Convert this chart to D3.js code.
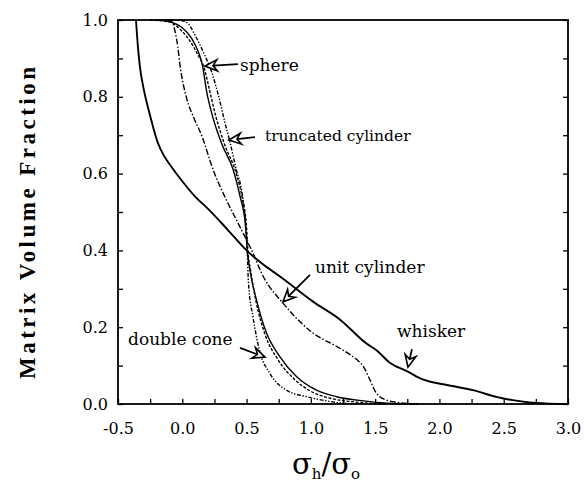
<!DOCTYPE html>
<html>
<head>
<meta charset="utf-8">
<script src="https://cdn.jsdelivr.net/npm/d3@7/dist/d3.min.js"></script>
<style>
  body { margin: 0; background: #fff; }
  text { font-family: "DejaVu Serif", "Liberation Serif", serif; fill: #000; }
</style>
</head>
<body>
<svg width="584" height="486"></svg>
<script>
// values: x = sigma_h / sigma_o, y = matrix volume fraction
var whiskerX = [-0.36, -0.345, -0.33, -0.30, -0.265, -0.23, -0.19, -0.14, -0.10, 0.0, 0.10, 0.21, 0.35, 0.50, 0.63, 0.76, 1.02, 1.23, 1.43, 1.51, 1.62, 1.75, 1.87, 2.05, 2.26, 2.45, 2.57, 2.70, 2.85, 3.0];
var whiskerY = [1.0, 0.93, 0.88, 0.82, 0.77, 0.725, 0.68, 0.645, 0.625, 0.58, 0.54, 0.505, 0.455, 0.40, 0.363, 0.332, 0.266, 0.219, 0.158, 0.14, 0.106, 0.085, 0.064, 0.05, 0.036, 0.018, 0.01, 0.004, 0.001, 0];

var truncX = [-0.2, -0.135, -0.05, 0.0, 0.073, 0.125, 0.156, 0.19, 0.24, 0.31, 0.396, 0.45, 0.49, 0.505, 0.526, 0.578, 0.656, 0.76, 0.89, 1.044, 1.2, 1.41, 1.6, 1.8];
var truncY = [1.0, 0.998, 0.99, 0.98, 0.952, 0.917, 0.883, 0.813, 0.744, 0.675, 0.61, 0.54, 0.47, 0.40, 0.349, 0.27, 0.184, 0.123, 0.071, 0.036, 0.019, 0.008, 0.002, 0];

var sphereX = [-0.25, -0.1, 0.0, 0.06, 0.12, 0.17, 0.21, 0.26, 0.33, 0.42, 0.47, 0.5, 0.51, 0.53, 0.575, 0.645, 0.745, 0.87, 1.0, 1.15, 1.35, 1.6];
var sphereY = [1.0, 0.995, 0.97, 0.945, 0.91, 0.875, 0.82, 0.75, 0.675, 0.60, 0.53, 0.46, 0.40, 0.35, 0.265, 0.18, 0.115, 0.065, 0.033, 0.015, 0.005, 0];

var unitX = [-0.12, -0.08, -0.056, -0.035, -0.018, 0.034, 0.09, 0.15, 0.24, 0.345, 0.42, 0.50, 0.54, 0.63, 0.785, 1.02, 1.2, 1.3, 1.36, 1.41, 1.46, 1.51, 1.59, 1.7, 1.85];
var unitY = [1.0, 0.995, 0.97, 0.93, 0.883, 0.796, 0.745, 0.70, 0.61, 0.53, 0.48, 0.427, 0.40, 0.332, 0.262, 0.184, 0.15, 0.13, 0.115, 0.097, 0.0625, 0.028, 0.01, 0.003, 0];

var coneX = [-0.1, 0.0, 0.047, 0.10, 0.163, 0.228, 0.28, 0.33, 0.37, 0.42, 0.461, 0.49, 0.505, 0.515, 0.55, 0.60, 0.68, 0.81, 0.967, 1.09, 1.2, 1.35];
var coneY = [1.0, 0.998, 0.99, 0.96, 0.917, 0.865, 0.805, 0.735, 0.683, 0.61, 0.557, 0.48, 0.40, 0.314, 0.227, 0.14, 0.08, 0.036, 0.019, 0.01, 0.004, 0];

var xTickValues = [-0.5, -0.25, 0.0, 0.25, 0.5, 0.75, 1.0, 1.25, 1.5, 1.75, 2.0, 2.25, 2.5, 2.75, 3.0];
var xTickLabels = ["-0.5", "", "0.0", "", "0.5", "", "1.0", "", "1.5", "", "2.0", "", "2.5", "", "3.0"];
var yTickValues = [0, 0.1, 0.2, 0.3, 0.4, 0.5, 0.6, 0.7, 0.8, 0.9, 1.0];
var yTickLabels = ["0.0", "", "0.2", "", "0.4", "", "0.6", "", "0.8", "", "1.0"];

// annotation labels and arrows (data coordinates)
var labelText = ["sphere", "truncated cylinder", "unit cylinder", "double cone", "whisker"];
var labelSize = [17, 15.5, 17, 17, 17];
var labelPos = [[0.449, 0.868], [0.643, 0.684], [1.032, 0.341], [-0.422, 0.154], [1.67, 0.174]];
var arrowTail = [[0.433, 0.885], [0.565, 0.695], [0.993, 0.336], [0.449, 0.146], [1.786, 0.143]];
var arrowTip = [[0.177, 0.880], [0.363, 0.6875], [0.783, 0.266], [0.643, 0.122], [1.755, 0.096]];

var svg = d3.select("svg"),
    margin = {top: 20, right: 16, bottom: 82, left: 118},
    width = +svg.attr("width") - margin.left - margin.right,
    height = +svg.attr("height") - margin.top - margin.bottom,
    g = svg.append("g").attr("transform", "translate(" + margin.left + "," + margin.top + ")");

var x = d3.scaleLinear().domain([-0.5, 3.0]).range([0, width]);
var y = d3.scaleLinear().domain([0, 1]).range([height, 0]);

// axes with inward ticks
var xAxis = g.append("g")
    .attr("transform", "translate(0," + height + ")")
    .call(d3.axisBottom(x).tickValues(xTickValues).tickSize(-5).tickPadding(19)
      .tickFormat(function(d, i) { return xTickLabels[i]; }));

var yAxis = g.append("g")
    .call(d3.axisLeft(y).tickValues(yTickValues).tickSize(-5).tickPadding(10)
      .tickFormat(function(d, i) { return yTickLabels[i]; }));

var yRight = g.append("g")
    .attr("transform", "translate(" + width + ",0)")
    .call(d3.axisRight(y).tickValues(yTickValues).tickSize(-5).tickFormat(""));

[xAxis, yAxis, yRight].forEach(function(a) {
  a.select(".domain").remove();
  a.selectAll(".tick line").attr("stroke", "#000").attr("stroke-width", 1.3);
  a.selectAll(".tick text").style("font-family", "DejaVu Serif").style("font-size", "16px").attr("fill", "#000");
});

// the curves
var line = d3.line()
    .x(function(d) { return x(d[0]); })
    .y(function(d) { return y(d[1]); })
    .curve(d3.curveMonotoneX);

var series = [
  {xs: whiskerX, ys: whiskerY, width: 1.9, dash: null},
  {xs: truncX, ys: truncY, width: 1.4, dash: null},
  {xs: sphereX, ys: sphereY, width: 1.4, dash: "3,1.6"},
  {xs: unitX, ys: unitY, width: 1.4, dash: "6,2,1.5,2"},
  {xs: coneX, ys: coneY, width: 1.4, dash: "4,1.6,1.4,1.6,1.4,1.6"}
];

g.selectAll("path.curve")
  .data(series)
  .enter().append("path")
    .attr("class", "curve")
    .attr("fill", "none")
    .attr("stroke", "#000")
    .attr("stroke-width", function(d) { return d.width; })
    .attr("stroke-dasharray", function(d) { return d.dash; })
    .attr("d", function(d) { return line(d.xs.map(function(v, i) { return [v, d.ys[i]]; })); });

// frame
g.append("rect")
    .attr("width", width)
    .attr("height", height)
    .attr("fill", "none")
    .attr("stroke", "#000")
    .attr("stroke-width", 1.8);

// annotation text
g.selectAll("text.ann")
  .data(labelText)
  .enter().append("text")
    .attr("class", "ann")
    .attr("x", function(d, i) { return x(labelPos[i][0]); })
    .attr("y", function(d, i) { return y(labelPos[i][1]); })
    .style("font-size", function(d, i) { return labelSize[i] + "px"; })
    .text(function(d) { return d; });

// arrows with hollow heads
arrowTip.forEach(function(tip, i) {
  var tx = x(tip[0]), ty = y(tip[1]),
      sx = x(arrowTail[i][0]), sy = y(arrowTail[i][1]),
      a = Math.atan2(ty - sy, tx - sx),
      ux = Math.cos(a), uy = Math.sin(a), vx = -uy, vy = ux,
      L = 12, W = 5.5, n = 4;
  g.append("line")
      .attr("x1", sx).attr("y1", sy)
      .attr("x2", tx - (L - n) * ux).attr("y2", ty - (L - n) * uy)
      .attr("stroke", "#000").attr("stroke-width", 1.8);
  g.append("path")
      .attr("d", "M" + tx + "," + ty +
        "L" + (tx - L * ux + W * vx) + "," + (ty - L * uy + W * vy) +
        "L" + (tx - (L - n) * ux) + "," + (ty - (L - n) * uy) +
        "L" + (tx - L * ux - W * vx) + "," + (ty - L * uy - W * vy) + "Z")
      .attr("fill", "#fff")
      .attr("stroke", "#000")
      .attr("stroke-width", 1.6)
      .attr("stroke-linejoin", "miter");
});

// axis titles
svg.append("text")
    .attr("transform", "translate(" + 35 + "," + 223 + ")rotate(-90)")
    .attr("text-anchor", "middle")
    .attr("textLength", 312)
    .attr("lengthAdjust", "spacing")
    .style("font-family", "Liberation Serif")
    .style("font-size", "23px")
    .style("font-weight", "bold")
    .text("Matrix Volume Fraction");

var xt = svg.append("text")
    .attr("x", 326)
    .attr("y", 474)
    .attr("text-anchor", "middle")
    .style("font-size", "29px");
xt.append("tspan").text("σ");
xt.append("tspan").attr("dy", 5).style("font-size", "15px").text("h");
xt.append("tspan").attr("dy", -5).text("/σ");
xt.append("tspan").attr("dy", 5).style("font-size", "15px").text("o");
</script>
</body>
</html>
